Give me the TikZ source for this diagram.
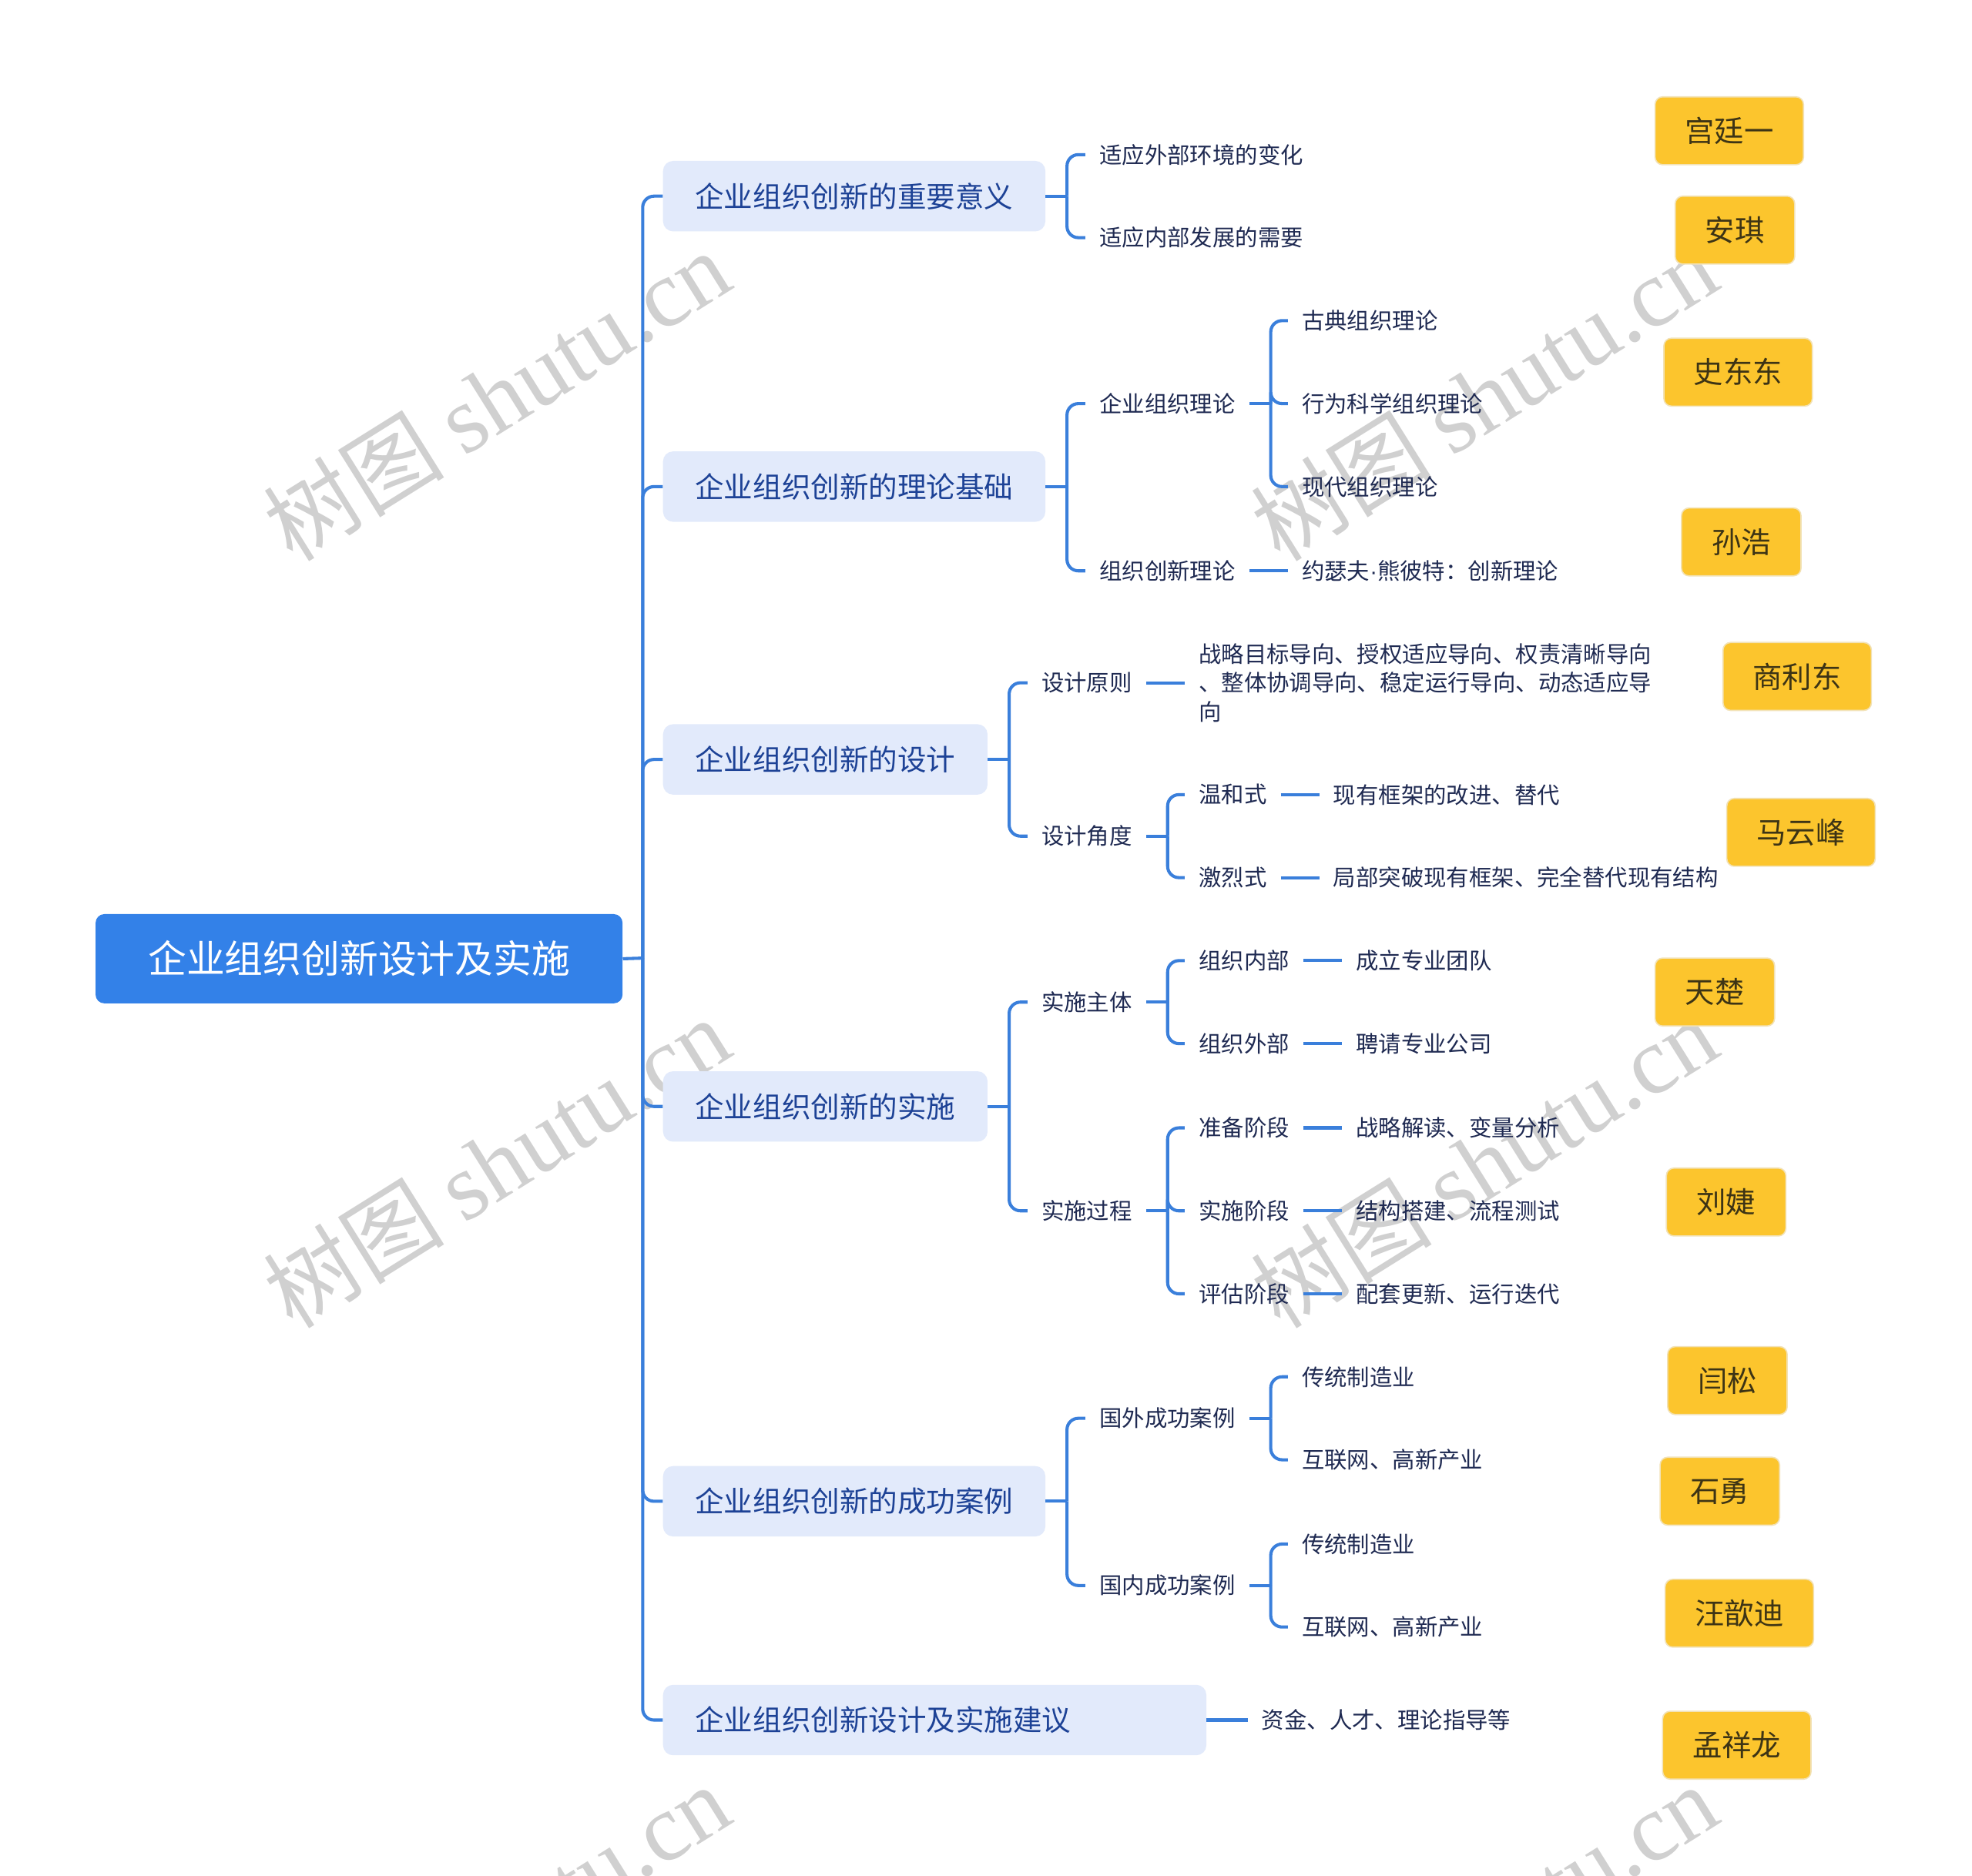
\documentclass[tikz,border=0pt]{standalone}
\usepackage{fontspec}
\newfontfamily\cjk{Noto Sans CJK SC}
\newfontfamily\wmserif{Liberation Serif}
\newfontfamily\latsans{Liberation Sans}
\definecolor{rootfill}{HTML}{3381E8}
\definecolor{lonefill}{HTML}{E2EAFB}
\definecolor{lonetext}{HTML}{1D4296}
\definecolor{leaftext}{HTML}{1F2A52}
\definecolor{lineblue}{HTML}{3A7FDB}
\definecolor{yel}{HTML}{FCC52D}
\definecolor{yelborder}{HTML}{F2E2B6}
\definecolor{nametext}{HTML}{3D3415}
\definecolor{wmgray}{HTML}{D0D0D0}
\begin{document}
\begin{tikzpicture}[x=1pt,y=-1pt,
  rootbox/.style={fill=rootfill, text=white, rounded corners=7pt, font=\cjk\fontsize{30.5}{36}\selectfont, minimum width=419pt, minimum height=71pt, inner sep=0pt},
  lone/.style={fill=lonefill, text=lonetext, rounded corners=8pt, font=\cjk\fontsize{23}{28}\selectfont, minimum height=56pt, inner xsep=25.5pt, inner ysep=0pt, anchor=west, align=left},
  leaf/.style={text=leaftext, font=\cjk\fontsize{18}{23}\selectfont, inner xsep=11pt, inner ysep=2pt, anchor=west, align=left},
  namebox/.style={fill=yel, draw=yelborder, line width=1pt, rounded corners=6pt, text=nametext, font=\cjk\fontsize{23.5}{28}\selectfont, minimum height=54pt, inner sep=0pt},
  conn/.style={draw=lineblue, line width=2.5pt},
  brk/.style={draw=lineblue, line width=2.5pt, rounded corners=9pt},
  wm/.style={text=wmgray, rotate=32, inner sep=0pt}
]
\useasboundingbox (0,0) rectangle (1568,1492);
\fill[white] (0,0) rectangle (1568,1492);

% watermarks (behind the diagram)
\begin{scope}
\clip (0,0) rectangle (1568,1492);
\foreach \wx/\wy [count=\i] in {395/315,1180/315,395/925,1180/925,395/1535,1180/1535} {
  \node[wm] (w\i) at (\wx,\wy) {{\cjk\fontsize{72}{80}\selectfont 树图}\hspace{16pt}{\wmserif\fontsize{76}{80}\selectfont shutu.cn}};
}
\end{scope}

% root
\node[rootbox] (root) at (285.5,762.5) {企业组织创新设计及实施};
\coordinate (t) at (511,762);

% level 1
\node[lone] (a) at (527,156) {企业组织创新的重要意义};
\node[lone] (b) at (527,387) {企业组织创新的理论基础};
\node[lone] (c) at (527,604) {企业组织创新的设计};
\node[lone] (d) at (527,880) {企业组织创新的实施};
\node[lone] (e) at (527,1194) {企业组织创新的成功案例};
\node[lone, text width=381pt] (f) at (527,1368) {企业组织创新设计及实施建议};

\draw[conn] (root.east) -- (t);
\foreach \n in {a,b,c,d,e,f} { \draw[brk] (t) |- (\n.west); }

% branch a
\node[leaf] (a1) at (863,123) {适应外部环境的变化};
\node[leaf] (a2) at (863,189) {适应内部发展的需要};
\coordinate (ab) at ([xshift=17pt]a.east);
\draw[conn] (a.east) -- (ab);
\foreach \n in {a1,a2} { \draw[brk] (ab) |- (\n.west); }

% branch b
\node[leaf] (b1) at (863,321) {企业组织理论};
\node[leaf] (b2) at (863,454) {组织创新理论};
\coordinate (bb) at ([xshift=17pt]b.east);
\draw[conn] (b.east) -- (bb);
\foreach \n in {b1,b2} { \draw[brk] (bb) |- (\n.west); }
\node[leaf] (b11) at (1024,255) {古典组织理论};
\node[leaf] (b12) at (1024,321) {行为科学组织理论};
\node[leaf] (b13) at (1024,387) {现代组织理论};
\coordinate (b1b) at ([xshift=17pt]b1.east);
\draw[conn] (b1.east) -- (b1b);
\foreach \n in {b11,b12,b13} { \draw[brk] (b1b) |- (\n.west); }
\node[leaf] (b21) at (1024,454) {约瑟夫{\latsans ·}熊彼特：创新理论};
\draw[conn] (b2.east) -- (b21.west);

% branch c
\node[leaf] (c1) at (817,543) {设计原则};
\node[leaf] (c2) at (817,665) {设计角度};
\coordinate (cb) at ([xshift=17pt]c.east);
\draw[conn] (c.east) -- (cb);
\foreach \n in {c1,c2} { \draw[brk] (cb) |- (\n.west); }
\node[leaf] (c11) at (942,543) {战略目标导向、授权适应导向、权责清晰导向\\、整体协调导向、稳定运行导向、动态适应导\\向};
\draw[conn] (c1.east) -- (c11.west);
\node[leaf] (c21) at (942,632) {温和式};
\node[leaf] (c22) at (942,698) {激烈式};
\coordinate (c2b) at ([xshift=17pt]c2.east);
\draw[conn] (c2.east) -- (c2b);
\foreach \n in {c21,c22} { \draw[brk] (c2b) |- (\n.west); }
\node[leaf] (c211) at (1049,632) {现有框架的改进、替代};
\node[leaf] (c221) at (1049,698) {局部突破现有框架、完全替代现有结构};
\draw[conn] (c21.east) -- (c211.west);
\draw[conn] (c22.east) -- (c221.west);

% branch d
\node[leaf] (d1) at (817,797) {实施主体};
\node[leaf] (d2) at (817,963) {实施过程};
\coordinate (db) at ([xshift=17pt]d.east);
\draw[conn] (d.east) -- (db);
\foreach \n in {d1,d2} { \draw[brk] (db) |- (\n.west); }
\node[leaf] (d11) at (942,764) {组织内部};
\node[leaf] (d12) at (942,830) {组织外部};
\coordinate (d1b) at ([xshift=17pt]d1.east);
\draw[conn] (d1.east) -- (d1b);
\foreach \n in {d11,d12} { \draw[brk] (d1b) |- (\n.west); }
\node[leaf] (d111) at (1067,764) {成立专业团队};
\node[leaf] (d121) at (1067,830) {聘请专业公司};
\draw[conn] (d11.east) -- (d111.west);
\draw[conn] (d12.east) -- (d121.west);
\node[leaf] (d21) at (942,897) {准备阶段};
\node[leaf] (d22) at (942,963) {实施阶段};
\node[leaf] (d23) at (942,1029) {评估阶段};
\coordinate (d2b) at ([xshift=17pt]d2.east);
\draw[conn] (d2.east) -- (d2b);
\foreach \n in {d21,d22,d23} { \draw[brk] (d2b) |- (\n.west); }
\node[leaf] (d211) at (1067,897) {战略解读、变量分析};
\node[leaf] (d221) at (1067,963) {结构搭建、流程测试};
\node[leaf] (d231) at (1067,1029) {配套更新、运行迭代};
\draw[conn] (d21.east) -- (d211.west);
\draw[conn] (d22.east) -- (d221.west);
\draw[conn] (d23.east) -- (d231.west);

% branch e
\node[leaf] (e1) at (863,1128) {国外成功案例};
\node[leaf] (e2) at (863,1261) {国内成功案例};
\coordinate (eb) at ([xshift=17pt]e.east);
\draw[conn] (e.east) -- (eb);
\foreach \n in {e1,e2} { \draw[brk] (eb) |- (\n.west); }
\node[leaf] (e11) at (1024,1095) {传统制造业};
\node[leaf] (e12) at (1024,1161) {互联网、高新产业};
\coordinate (e1b) at ([xshift=17pt]e1.east);
\draw[conn] (e1.east) -- (e1b);
\foreach \n in {e11,e12} { \draw[brk] (e1b) |- (\n.west); }
\node[leaf] (e21) at (1024,1228) {传统制造业};
\node[leaf] (e22) at (1024,1294) {互联网、高新产业};
\coordinate (e2b) at ([xshift=17pt]e2.east);
\draw[conn] (e2.east) -- (e2b);
\foreach \n in {e21,e22} { \draw[brk] (e2b) |- (\n.west); }

% branch f
\node[leaf] (f1) at (992,1368) {资金、人才、理论指导等};
\draw[conn] (f.east) -- (f1.west);

% name tags
\node[namebox, minimum width=118pt] (n1) at (1375,104) {宫廷一};
\node[namebox, minimum width=95pt] (n2) at (1379.5,183) {安琪};
\node[namebox, minimum width=118pt] (n3) at (1382,296) {史东东};
\node[namebox, minimum width=95pt] (n4) at (1384.5,431) {孙浩};
\node[namebox, minimum width=118pt] (n5) at (1429,538) {商利东};
\node[namebox, minimum width=118pt] (n6) at (1432,662) {马云峰};
\node[namebox, minimum width=95pt] (n7) at (1363.5,789) {天楚};
\node[namebox, minimum width=95pt] (n8) at (1372.5,956) {刘婕};
\node[namebox, minimum width=95pt] (n9) at (1373.5,1098) {闫松};
\node[namebox, minimum width=95pt] (n10) at (1367.5,1186) {石勇};
\node[namebox, minimum width=118pt] (n11) at (1383,1283) {汪歆迪};
\node[namebox, minimum width=118pt] (n12) at (1381,1388) {孟祥龙};
\end{tikzpicture}
\end{document}
